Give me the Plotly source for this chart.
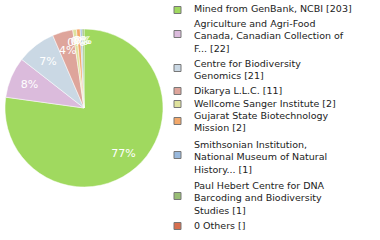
import plotly.graph_objects as go

labels = ["Mined from GenBank, NCBI [203]",
          "Agriculture and Agri-Food<br>Canada, Canadian Collection of<br>F... [22]",
          "Centre for Biodiversity<br>Genomics [21]",
          "Dikarya L.L.C. [11]",
          "Wellcome Sanger Institute [2]",
          "Gujarat State Biotechnology<br>Mission [2]",
          "Smithsonian Institution,<br>National Museum of Natural<br>History... [1]",
          "Paul Hebert Centre for DNA<br>Barcoding and Biodiversity<br>Studies [1]",
          "0 Others []"]
values = [203, 22, 21, 11, 2, 2, 1, 1, 0]
colors = ["#a0d95f", "#dbbbdc", "#cad8e4", "#dea59b", "#dfe29d",
          "#f3a86a", "#98b8dc", "#98bd74", "#d86f4f"]
box_y = [10, 34, 68, 91, 104, 121, 155, 196, 226]
text_y = [9, 36, 69, 90, 103, 121.5, 157, 198, 225]

W, H = 380, 240
total = sum(values)
vals = values[:-1]
pct = [f"{int(v * 100 // total)}%" for v in vals]
pct_big = [p if i == 0 else "" for i, p in enumerate(pct)]
pct_small = ["" if i == 0 else p for i, p in enumerate(pct)]
cx, cy, r = 84, 108, 79
dom = dict(x=[(cx - r)/W, (cx + r)/W], y=[(H - cy - r)/H, (H - cy + r)/H])
rt = 68
dom_t = dict(x=[(cx - rt)/W, (cx + rt)/W], y=[(H - cy - rt)/H, (H - cy + rt)/H])
clear = ["rgba(0,0,0,0)"] * len(vals)
tfont = dict(color="white", size=11, family="DejaVu Sans")

fig = go.Figure()
fig.add_trace(go.Pie(
    values=vals, labels=labels[:-1], sort=False, direction="clockwise",
    rotation=0, marker=dict(colors=colors[:-1], line=dict(color="white", width=0.5)),
    textinfo="none", domain=dom, showlegend=False, hoverinfo="none"))
fig.add_trace(go.Pie(
    values=vals, labels=labels[:-1], sort=False, direction="clockwise",
    rotation=0, hole=0.52, marker=dict(colors=clear, line=dict(width=0)),
    text=pct_big, texttemplate="%{text}", textposition="inside",
    insidetextorientation="horizontal", textfont=tfont,
    domain=dom, showlegend=False, hoverinfo="none"))
fig.add_trace(go.Pie(
    values=vals, labels=labels[:-1], sort=False, direction="clockwise",
    rotation=0, hole=0.74, marker=dict(colors=clear, line=dict(width=0)),
    text=pct_small, texttemplate="%{text}", textposition="inside",
    insidetextorientation="horizontal", textfont=tfont,
    domain=dom_t, showlegend=False, hoverinfo="none"))

for lab, col, yb, yt in zip(labels, colors, box_y, text_y):
    fig.add_shape(type="rect", xref="paper", yref="paper",
                  x0=174/W, x1=181/W, y0=(H-yb-3.5)/H, y1=(H-yb+3.5)/H,
                  fillcolor=col, line=dict(color="#777777", width=1))
    fig.add_annotation(x=192/W, y=(H-yt)/H, xref="paper", yref="paper",
                       text=lab, showarrow=False, xanchor="left", yanchor="middle",
                       align="left", font=dict(family="DejaVu Sans", size=9.5, color="#222222"))

fig.update_layout(width=W, height=H, margin=dict(l=0, r=0, t=0, b=0),
                  paper_bgcolor="white", plot_bgcolor="white",
                  uniformtext=dict(minsize=11, mode="show"))
fig.write_html("out.html")
